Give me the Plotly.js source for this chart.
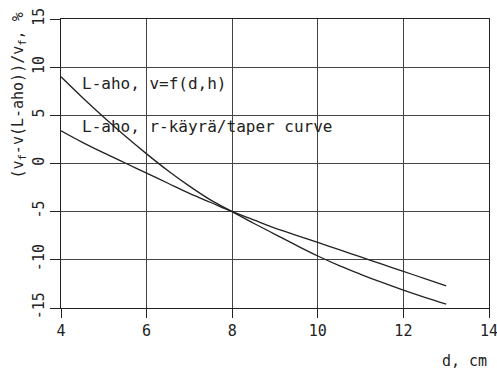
<!DOCTYPE html>
<html>
<head>
<meta charset="utf-8">
<script src="https://cdn.plot.ly/plotly-3.0.1.min.js"></script>
<style>html,body{margin:0;padding:0;background:#fff;}#chart{width:497px;height:372px;}</style>
</head>
<body>
<div id="chart"></div>
<script>
const diameter = [4, 4.5, 5, 5.5, 6, 6.5, 7, 7.5, 8, 8.5, 9, 9.5, 10, 10.5, 11, 11.5, 12, 12.5, 13];
const volumeModel = [9.0, 6.85, 4.8, 2.85, 1.0, -0.75, -2.35, -3.8, -5.0, -6.2, -7.35, -8.5, -9.6, -10.6, -11.5, -12.35, -13.15, -13.9, -14.6];
const taperCurve = [3.4, 2.2, 1.1, 0.05, -1.0, -2.05, -3.1, -4.05, -5.0, -5.85, -6.7, -7.45, -8.2, -8.95, -9.7, -10.45, -11.2, -11.95, -12.7];
const seriesNames = ["L-aho, v=f(d,h)", "L-aho, r-käyrä/taper curve"];
const xTicks = [4, 6, 8, 10, 12, 14];
const yTicks = [-15, -10, -5, 0, 5, 10, 15];
const yTickText = ["-15", "-10", "-5", "0", "5", "10", "15"];

const fontFam = "DejaVu Sans Mono, monospace";
const ink = "#222";

const traces = [
  {x: diameter, y: volumeModel, mode: "lines", line: {color: ink, width: 1.3, shape: "spline", smoothing: 1}, name: seriesNames[0], hoverinfo: "none"},
  {x: diameter, y: taperCurve, mode: "lines", line: {color: ink, width: 1.3, shape: "spline", smoothing: 1}, name: seriesNames[1], hoverinfo: "none"}
];

const layout = {
  width: 497, height: 372,
  margin: {l: 61, r: 8, t: 19, b: 64},
  paper_bgcolor: "#fff", plot_bgcolor: "#fff",
  showlegend: false,
  font: {family: fontFam, color: ink, size: 15},
  xaxis: {
    range: [4, 14], tickvals: xTicks, ticktext: xTicks.map(String),
    showgrid: true, gridcolor: "#444", gridwidth: 1,
    showline: true, linecolor: ink, linewidth: 1, mirror: true,
    ticks: "outside", ticklen: 9, tickcolor: ink, tickwidth: 1,
    ticklabeloverflow: "allow",
    zeroline: false, tickfont: {family: fontFam, size: 15, color: ink}
  },
  yaxis: {
    range: [-15, 15], tickvals: yTicks, ticktext: yTickText,
    showgrid: true, gridcolor: "#444", gridwidth: 1,
    showline: true, linecolor: ink, linewidth: 1, mirror: true,
    ticks: "outside", ticklen: 10, tickcolor: ink, tickwidth: 1,
    tickangle: -90, zeroline: false, tickfont: {family: fontFam, size: 15, color: ink}
  },
  annotations: [
    {xref: "x", yref: "y", x: 4.45, y: 8.3, xanchor: "left", yanchor: "middle", text: seriesNames[0], showarrow: false, font: {family: fontFam, size: 16, color: ink}},
    {xref: "x", yref: "y", x: 4.45, y: 3.8, xanchor: "left", yanchor: "middle", text: seriesNames[1], showarrow: false, font: {family: fontFam, size: 16, color: ink}},
    {xref: "paper", yref: "paper", x: 1, y: -0.183, xanchor: "right", yanchor: "middle", text: "d, cm", showarrow: false, font: {family: fontFam, size: 15, color: ink}},
    {xref: "paper", yref: "paper", x: -0.1, y: 1.03, xanchor: "center", yanchor: "top", textangle: -90, text: "(v<sub>f</sub>-v(L-aho))/v<sub>f</sub>, %", showarrow: false, font: {family: fontFam, size: 15, color: ink}}
  ]
};

Plotly.newPlot("chart", traces, layout, {staticPlot: true, displayModeBar: false});
</script>
</body>
</html>
